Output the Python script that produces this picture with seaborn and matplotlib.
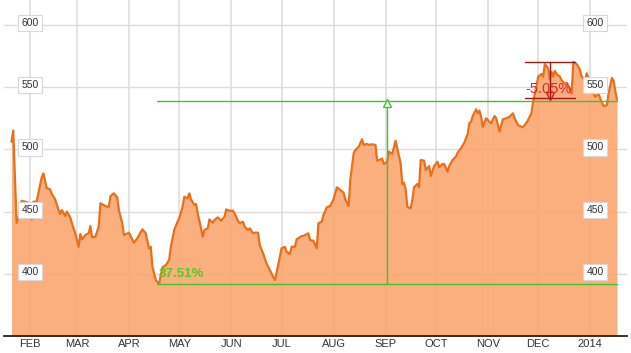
import matplotlib
matplotlib.use("Agg")
import matplotlib.pyplot as plt
import seaborn as sns
import pandas as pd
import numpy as np

dates = [
 "2013-01-21","2013-01-22","2013-01-24","2013-01-26","2013-01-27","2013-01-29","2013-02-01","2013-02-02","2013-02-03","2013-02-05",
 "2013-02-07","2013-02-08","2013-02-09","2013-02-11","2013-02-13","2013-02-14","2013-02-16","2013-02-18","2013-02-19","2013-02-20",
 "2013-02-22","2013-02-23","2013-02-25","2013-02-26","2013-02-28","2013-03-02","2013-03-03","2013-03-04","2013-03-06","2013-03-08",
 "2013-03-09","2013-03-10","2013-03-12","2013-03-14","2013-03-15","2013-03-18","2013-03-20","2013-03-21","2013-03-23","2013-03-25",
 "2013-03-26","2013-03-28","2013-03-29","2013-04-01","2013-04-04","2013-04-06","2013-04-09","2013-04-11","2013-04-12","2013-04-13",
 "2013-04-14","2013-04-15","2013-04-17","2013-04-19","2013-04-20","2013-04-21","2013-04-23","2013-04-25","2013-04-26","2013-04-28",
 "2013-04-30","2013-05-01","2013-05-03","2013-05-04","2013-05-06","2013-05-07","2013-05-08","2013-05-10","2013-05-11","2013-05-12",
 "2013-05-14","2013-05-15","2013-05-16","2013-05-18","2013-05-19","2013-05-21","2013-05-22","2013-05-24","2013-05-26","2013-05-28",
 "2013-05-29","2013-05-31","2013-06-02","2013-06-03","2013-06-05","2013-06-06","2013-06-08","2013-06-09","2013-06-11","2013-06-12",
 "2013-06-14","2013-06-15","2013-06-17","2013-06-18","2013-06-20","2013-06-22","2013-06-24","2013-06-25","2013-06-27","2013-06-28",
 "2013-06-30","2013-07-01","2013-07-03","2013-07-04","2013-07-06","2013-07-07","2013-07-09","2013-07-10","2013-07-11","2013-07-13",
 "2013-07-14","2013-07-16","2013-07-17","2013-07-18","2013-07-20","2013-07-22","2013-07-23","2013-07-25","2013-07-26","2013-07-28",
 "2013-07-30","2013-08-01","2013-08-02","2013-08-03","2013-08-05","2013-08-07","2013-08-08","2013-08-10","2013-08-11","2013-08-13",
 "2013-08-14","2013-08-16","2013-08-18","2013-08-19","2013-08-21","2013-08-22","2013-08-24","2013-08-26","2013-08-27","2013-08-29",
 "2013-08-30","2013-08-31","2013-09-02","2013-09-03","2013-09-05","2013-09-06","2013-09-07","2013-09-08","2013-09-10","2013-09-11",
 "2013-09-12","2013-09-13","2013-09-14","2013-09-16","2013-09-17","2013-09-18","2013-09-20","2013-09-21","2013-09-22","2013-09-24",
 "2013-09-25","2013-09-27","2013-09-28","2013-09-30","2013-10-02","2013-10-03","2013-10-05","2013-10-06","2013-10-08","2013-10-09",
 "2013-10-11","2013-10-13","2013-10-14","2013-10-16","2013-10-18","2013-10-20","2013-10-21","2013-10-22","2013-10-23","2013-10-25",
 "2013-10-26","2013-10-27","2013-10-28","2013-10-29","2013-10-31","2013-11-02","2013-11-03","2013-11-05","2013-11-06","2013-11-08",
 "2013-11-10","2013-11-12","2013-11-14","2013-11-16","2013-11-17","2013-11-19","2013-11-21","2013-11-22","2013-11-24","2013-11-25",
 "2013-11-27","2013-11-28","2013-11-30","2013-12-01","2013-12-03","2013-12-04","2013-12-05","2013-12-07","2013-12-08","2013-12-09",
 "2013-12-10","2013-12-11","2013-12-12","2013-12-14","2013-12-15","2013-12-17","2013-12-18","2013-12-20","2013-12-21","2013-12-22",
 "2013-12-24","2013-12-26","2013-12-27","2013-12-29","2013-12-30","2014-01-01","2014-01-03","2014-01-04","2014-01-06","2014-01-07",
 "2014-01-09","2014-01-11","2014-01-12","2014-01-14","2014-01-15","2014-01-16","2014-01-17",
]
prices = [
 506, 515, 441, 448.6, 458.7, 458, 456.7, 443.8, 458, 458,
 471.3, 477.5, 480.7, 468.7, 467.9, 464.1, 459.9, 451.3, 448.1, 451.3,
 446.5, 450, 445.4, 440.6, 432.6, 421.8, 432, 427.8, 431.2, 432.6,
 438.4, 429.4, 429.9, 437.9, 456.7, 454.5, 453.5, 462.5, 464.7, 461.5,
 451.3, 440.6, 431.2, 433.1, 425, 428.6, 435.8, 432.6, 426.6, 420.5,
 421.8, 405.8, 395.1, 392, 399.1, 405.3, 407.1, 411.2, 421.8, 435.2,
 441.9, 444.6, 453.9, 461.9, 460.7, 464.7, 459.9, 455.3, 456.1, 448.6,
 436.6, 429.9, 435.2, 436.6, 443.8, 441.1, 443.3, 445.4, 442.7, 445.9,
 451.8, 450.7, 450.7, 448.6, 442.7, 440.6, 441.9, 437.9, 435.2, 436.6,
 432.6, 433.1, 433.1, 423.2, 416.5, 408.5, 403.1, 400.5, 395.1, 400.5,
 413.8, 420.5, 421.8, 417.8, 416, 421.8, 421.8, 427.8, 428.6, 430.4,
 430.4, 432, 432.6, 427.2, 426.6, 420.5, 440.6, 441.9, 447.3, 453.5,
 454.5, 459.9, 464.7, 469.5, 467.3, 465.2, 459.9, 454.5, 475.4, 496.8,
 499.4, 502.1, 508, 503.5, 504.3, 503.5, 504, 503.5, 490.9, 492,
 492.5, 488.2, 490, 498.1, 496.2, 501.6, 506.9, 500.8, 488.8, 472.2,
 473.2, 467.9, 453.9, 452.6, 459.3, 469.5, 472.2, 469.5, 491.4, 490.9,
 483.4, 486.6, 478.6, 486.6, 490, 485.6, 488.2, 488.2, 482, 486.6,
 491.4, 494.1, 497.3, 500.8, 505.3, 512.3, 520.9, 522.1, 526.7, 532.1,
 528.9, 531, 526.2, 518.1, 524.9, 522.1, 520.9, 526.7, 524.9, 514.2,
 524.1, 524.9, 526.2, 528.9, 524.9, 519.5, 518.1, 517.7, 521.3, 523.5,
 528.9, 538.2, 550.2, 558.2, 560.4, 558.2, 568.4, 564.9, 556.1, 562.2,
 558.2, 563, 560.4, 558.2, 555.5, 552.3, 553.4, 548, 544.8, 570.1,
 568.4, 563.6, 558.2, 556.1, 561, 553, 544.8, 542.1, 544.8, 540.8,
 534.7, 535.5, 544.8, 557.2, 555, 547, 539.8,
]

month_ticks = ["2013-02-01","2013-03-01","2013-04-01","2013-05-01","2013-06-01","2013-07-01",
               "2013-08-01","2013-09-01","2013-10-01","2013-11-01","2013-12-01","2014-01-01"]
month_labels = ["FEB","MAR","APR","MAY","JUN","JUL","AUG","SEP","OCT","NOV","DEC","2014"]
y_ticks = [400, 450, 500, 550, 600]

# annotations
green_low, green_high = 392.0, 539.0
green_pct = "37.51%"
green_start, green_end, green_mid = "2013-04-18", "2014-01-17", "2013-09-02"
red_high, red_low = 570.1, 541.3
red_pct = "-5.05%"
red_start, red_end, red_mid = "2013-11-23", "2013-12-23", "2013-12-08"

df = pd.DataFrame({"date": pd.to_datetime(dates), "price": prices})

sns.set_style("white")
plt.rcParams["font.family"] = ["Liberation Sans Narrow", "Liberation Sans", "DejaVu Sans"]

fig = plt.figure(figsize=(6.31, 3.53), dpi=100)
ax = fig.add_axes([4/631, 17/353, 623/631, 336/353])

ax.set_xlim(pd.Timestamp("2013-01-16 12:00"), pd.Timestamp("2014-01-23"))
ax.set_ylim(350.2, 619.8)

# grid
for t in month_ticks:
    ax.axvline(pd.Timestamp(t), color="#e3e3e3", lw=1.4, zorder=0)
for y in y_ticks:
    ax.axhline(y, color="#dcdcdc", lw=1.0, zorder=0)

ax.fill_between(df["date"], df["price"], 300, color="#FBA570", alpha=0.9, lw=0, zorder=1)
sns.lineplot(data=df, x="date", y="price", ax=ax, color="#E8701C", lw=1.6, zorder=3)

# green annotation
gs, ge, gm = pd.Timestamp(green_start), pd.Timestamp(green_end), pd.Timestamp(green_mid)
ax.plot([gs, ge], [green_low, green_low], color="#44C42A", lw=1.0, zorder=4)
ax.plot([gs, ge], [green_high, green_high], color="#44C42A", lw=1.0, zorder=4)
ax.plot([gm, gm], [green_low, green_high], color="#44C42A", lw=1.0, zorder=4)
ax.plot([gm], [green_high - 1.5], marker="^", ms=6, mfc="white", mec="#44C42A", mew=1.0, zorder=5)
ax.text(gs + pd.Timedelta(days=1), green_low + 8, green_pct, color="#55CC22", fontsize=9.5,
        fontweight="bold", ha="left", va="center", zorder=5, family=["Liberation Sans", "DejaVu Sans"])

# red annotation
rs, re_, rm = pd.Timestamp(red_start), pd.Timestamp(red_end), pd.Timestamp(red_mid)
ax.plot([rs, re_], [red_high, red_high], color="#A01818", lw=1.0, zorder=4)
ax.plot([rs, re_], [red_low, red_low], color="#A01818", lw=1.0, zorder=4)
ax.plot([rm, rm], [red_low, red_high], color="#A01818", lw=1.0, zorder=4)
ax.plot([rm], [red_low + 1.5], marker="v", ms=6, mfc="none", mec="#C02020", mew=1.0, zorder=5)
ax.text(rs + pd.Timedelta(days=0.5), 548.5, red_pct, color="#E02828", fontsize=10.5,
        ha="left", va="center", zorder=6, family=["Liberation Sans", "DejaVu Sans"])

# boxed y labels
left_x = pd.Timestamp("2013-02-01")
right_x = pd.Timestamp("2014-01-04")
for y in y_ticks:
    for xx in (left_x, right_x):
        ax.text(xx, y + 1.5, str(y), fontsize=7.5, color="#333333", ha="center", va="center", zorder=7,
                family=["Liberation Sans", "DejaVu Sans"],
                bbox=dict(boxstyle="square,pad=0.3", fc="white", ec="#d8d8d8", lw=0.8))

ax.set_xticks([pd.Timestamp(t) for t in month_ticks])
ax.set_xticklabels(month_labels)
ax.set_yticks([])
ax.tick_params(axis="x", length=0, pad=2, labelsize=8, labelcolor="#333333")
ax.set_xlabel("")
ax.set_ylabel("")
for s in ["top", "left", "right"]:
    ax.spines[s].set_visible(False)
ax.spines["bottom"].set_color("#222222")
ax.spines["bottom"].set_linewidth(1.3)
ax.spines["bottom"].set_zorder(8)

fig.savefig("out.png", dpi=100)
